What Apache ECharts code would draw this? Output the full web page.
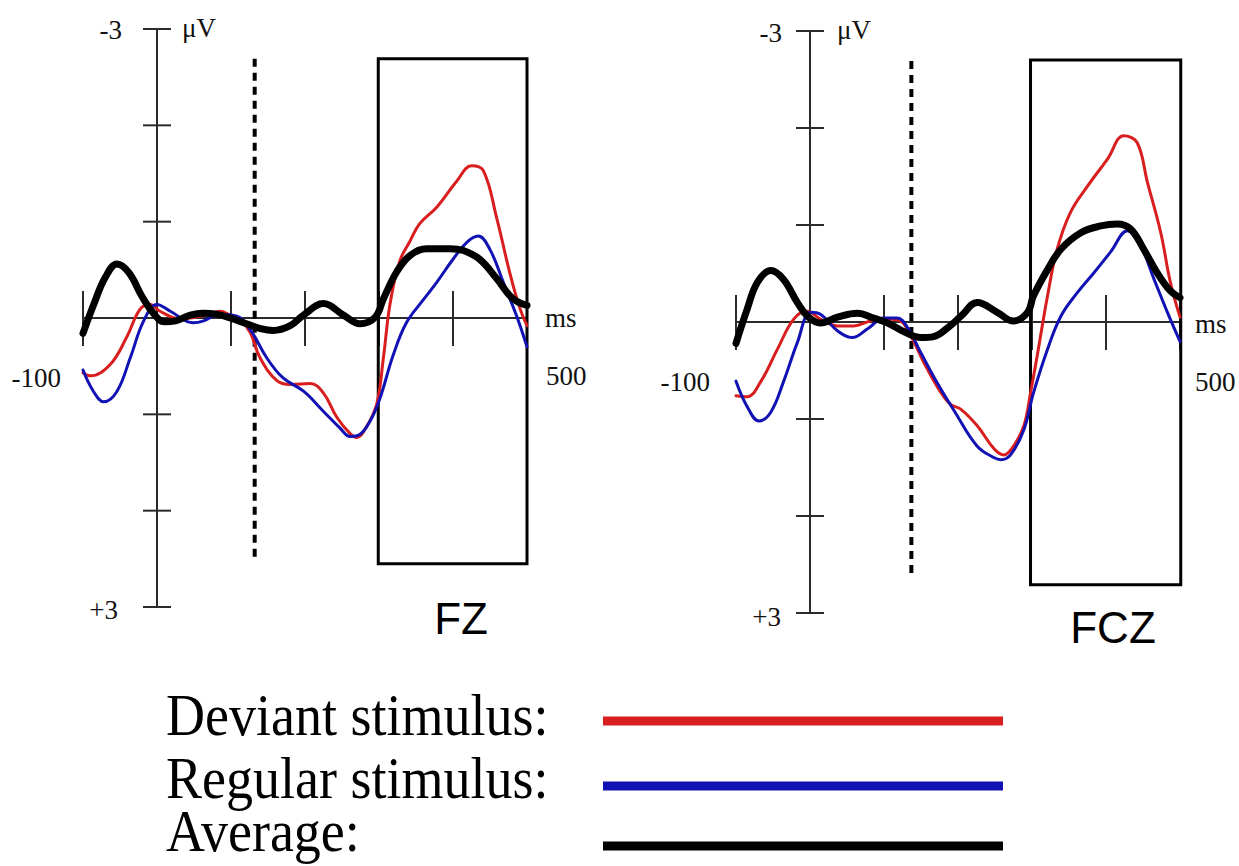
<!DOCTYPE html>
<html>
<head>
<meta charset="utf-8">
<script src="https://cdn.jsdelivr.net/npm/echarts@6/dist/echarts.min.js"></script>
<style>
html,body{margin:0;padding:0;background:#fff;}
#chart{width:1239px;height:866px;}
</style>
</head>
<body>
<div id="chart"></div>
<script>
// ---- data (ms, µV) ----
const X_TICKS = [-100, 0, 100, 200, 300, 400, 500];
const Y_TICKS = [-3, -2, -1, 0, 1, 2, 3];
const X_RANGE = [-100, 500];
const Y_RANGE = [-3, 3];
const PANEL_NAMES = ['FZ', 'FCZ'];
const LEGEND_NAMES = ['Deviant stimulus:', 'Regular stimulus:', 'Average:'];

const FZ_DEVIANT = [[-100,0.57],[-90,0.60],[-63,0.48],[-41,0.20],[-23,-0.09],[-9,-0.14],[4,-0.07],[31,0.01],[60,-0.02],[85,-0.07],[99,-0.03],[112,0.02],[126,0.15],[139,0.41],[162,0.65],[180,0.69],[207,0.68],[225,0.78],[243,1.03],[261,1.20],[270,1.24],[283,1.13],[297,0.89],[306,0.41],[315,-0.15],[328,-0.59],[342,-0.80],[355,-0.98],[378,-1.15],[405,-1.42],[425,-1.58],[441,-1.53],[459,-1.04],[477,-0.46],[490,-0.11],[500,0.08]];
const FZ_REGULAR = [[-100,0.54],[-86,0.76],[-72,0.87],[-54,0.76],[-36,0.41],[-18,0.03],[0,-0.14],[18,-0.07],[49,0.05],[63,0.03],[85,-0.04],[108,-0.02],[126,0.12],[148,0.41],[170,0.62],[198,0.76],[225,0.97],[247,1.14],[261,1.23],[274,1.21],[288,1.07],[301,0.84],[319,0.39],[337,0.05],[360,-0.19],[378,-0.37],[400,-0.61],[418,-0.78],[434,-0.85],[450,-0.71],[468,-0.37],[486,-0.02],[500,0.30]];
const FZ_AVERAGE = [[-100,0.16],[-85,-0.15],[-70,-0.42],[-54,-0.56],[-38,-0.47],[-20,-0.22],[-5,-0.05],[10,0.04],[25,0.03],[45,-0.03],[62,-0.05],[80,-0.04],[99,0],[121,0.06],[140,0.11],[157,0.13],[180,0.08],[198,-0.03],[225,-0.15],[252,-0.03],[274,0.06],[295,-0.01],[306,-0.20],[324,-0.48],[342,-0.65],[364,-0.72],[396,-0.72],[414,-0.70],[436,-0.61],[459,-0.41],[481,-0.20],[500,-0.13]];

const FCZ_DEVIANT = [[-100,0.76],[-85,0.77],[-67,0.62],[-44,0.28],[-22,-0.03],[-4,-0.11],[14,-0.03],[37,0.04],[59,0.04],[82,-0.01],[105,-0.03],[122,-0.01],[136,0.14],[154,0.42],[177,0.73],[190,0.85],[204,0.90],[226,1.07],[249,1.31],[262,1.37],[275,1.28],[289,1.07],[298,0.73],[307,0.35],[321,-0.27],[334,-0.75],[352,-1.13],[375,-1.40],[402,-1.68],[424,-1.92],[442,-1.85],[456,-1.44],[474,-0.92],[487,-0.41],[500,-0.05]];
const FCZ_REGULAR = [[-100,0.61],[-85,0.87],[-69,1.02],[-53,0.93],[-36,0.62],[-17,0.21],[1,-0.10],[14,-0.08],[37,0.09],[57,0.16],[78,0.07],[100,-0.04],[118,-0.04],[132,0.06],[150,0.32],[172,0.63],[196,0.93],[226,1.28],[249,1.40],[258,1.42],[271,1.37],[289,1.11],[302,0.73],[321,0.28],[339,-0.06],[361,-0.30],[384,-0.51],[406,-0.72],[429,-0.94],[447,-0.78],[465,-0.44],[483,-0.10],[500,0.20]];
const FCZ_AVERAGE = [[-100,0.22],[-85,-0.13],[-71,-0.41],[-53,-0.53],[-36,-0.44],[-17,-0.20],[-2,-0.05],[14,0.01],[37,-0.05],[64,-0.09],[86,-0.04],[105,0.01],[127,0.10],[150,0.16],[167,0.15],[186,0.06],[204,-0.06],[226,-0.20],[253,-0.10],[275,-0.01],[294,-0.10],[302,-0.27],[321,-0.54],[339,-0.75],[366,-0.92],[393,-0.99],[415,-1.01],[433,-0.96],[451,-0.75],[469,-0.51],[487,-0.32],[500,-0.25]];

// stimulus marker (dotted line) [ms, µV top, µV bottom]
const FZ_MARKER = [132, -2.69, 2.49];
const FCZ_MARKER = [137, -2.69, 2.63];
// analysis window box [ms start, ms end, µV top, µV bottom]
const FZ_WINDOW = [299, 500, -2.69, 2.55];
const FCZ_WINDOW = [298, 501, -2.70, 2.71];

// axis text labels: [x, y, text]
const AXIS_LABELS = [
  [0, -3, '-3'], [0, -3, 'μV'], [0, 3, '+3'], [-100, 0, '-100'], [500, 0, '500'], [500, 0, 'ms']
];

// ---- styles ----
const RED = '#d81e1e', BLUE = '#1212b4', BLACK = '#000';
const AXIS_COLOR = '#2b2b2b';
const SERIF = '"Liberation Serif", "Times New Roman", serif';
const SANS = '"Liberation Sans", Arial, sans-serif';

const panelCfg = [
  {grid:{left:83, top:29, width:444, height:578},
   nameOffset:[8, 11],
   labelOffsets:[[-35,1,'right'],[25,-1,'left'],[-39,3,'right'],[-22,60,'right'],[19,58,'left'],[18,0,'left']],
   dev:FZ_DEVIANT, reg:FZ_REGULAR, avg:FZ_AVERAGE, marker:FZ_MARKER, win:FZ_WINDOW},
  {grid:{left:736, top:31, width:444, height:582},
   nameOffset:[7, 14],
   labelOffsets:[[-28,2,'right'],[27,-1,'left'],[-29,4,'right'],[-26,60,'right'],[15,60,'left'],[15,2,'left']],
   dev:FCZ_DEVIANT, reg:FCZ_REGULAR, avg:FCZ_AVERAGE, marker:FCZ_MARKER, win:FCZ_WINDOW}
];

const grids = [], xAxes = [], yAxes = [], series = [];
panelCfg.forEach((p, i) => {
  grids.push(p.grid);
  xAxes.push({type:'value', gridIndex:i, min:X_RANGE[0], max:X_RANGE[1], show:false});
  yAxes.push({type:'value', gridIndex:i, min:Y_RANGE[0], max:Y_RANGE[1], inverse:true, show:false});
  const ax = {xAxisIndex:i, yAxisIndex:i, silent:true, clip:false, z:1};
  // axis lines
  series.push(Object.assign({type:'custom', data:[[X_RANGE[0], 0, X_RANGE[1], 0],[0, Y_RANGE[0], 0, Y_RANGE[1]]],
    renderItem:(params, api) => {
      const a = api.coord([api.value(0), api.value(1)]);
      const b = api.coord([api.value(2), api.value(3)]);
      return {type:'line', shape:{x1:a[0], y1:a[1], x2:b[0], y2:b[1]}, style:{stroke:AXIS_COLOR, lineWidth:2}};
    }}, ax));
  // x ticks
  series.push(Object.assign({type:'custom', data:X_TICKS.map(t => [t, 0]),
    renderItem:(params, api) => {
      const a = api.coord([api.value(0), api.value(1)]);
      return {type:'line', shape:{x1:a[0], y1:a[1]-27, x2:a[0], y2:a[1]+28}, style:{stroke:AXIS_COLOR, lineWidth:2}};
    }}, ax));
  // y ticks
  series.push(Object.assign({type:'custom', data:Y_TICKS.map(v => [0, v]),
    renderItem:(params, api) => {
      const a = api.coord([api.value(0), api.value(1)]);
      return {type:'line', shape:{x1:a[0]-14, y1:a[1], x2:a[0]+14, y2:a[1]}, style:{stroke:AXIS_COLOR, lineWidth:2}};
    }}, ax));
  // axis labels
  series.push(Object.assign({type:'custom', data:AXIS_LABELS.map(l => [l[0], l[1]]),
    renderItem:(params, api) => {
      const a = api.coord([api.value(0), api.value(1)]);
      const off = p.labelOffsets[params.dataIndex];
      return {type:'text', x:a[0]+off[0], y:a[1]+off[1],
        style:{text:AXIS_LABELS[params.dataIndex][2], fill:'#111', font:'27px ' + SERIF, align:off[2], verticalAlign:'middle'}};
    }}, ax));
  // dotted stimulus marker
  series.push(Object.assign({type:'custom', data:[p.marker],
    renderItem:(params, api) => {
      const a = api.coord([api.value(0), api.value(1)]);
      const b = api.coord([api.value(0), api.value(2)]);
      return {type:'line', shape:{x1:a[0], y1:a[1], x2:b[0], y2:b[1]}, style:{stroke:'#000', lineWidth:4, lineDash:[8,6]}};
    }}, ax));
  // window box
  series.push(Object.assign({type:'custom', data:[p.win],
    renderItem:(params, api) => {
      const a = api.coord([api.value(0), api.value(2)]);
      const b = api.coord([api.value(1), api.value(3)]);
      return {type:'rect', shape:{x:a[0], y:a[1], width:b[0]-a[0], height:b[1]-a[1]}, style:{fill:'none', stroke:'#000', lineWidth:3}};
    }}, ax));
  // panel name
  series.push(Object.assign({type:'custom', data:[[400, 3]],
    renderItem:(params, api) => {
      const a = api.coord([api.value(0), api.value(1)]);
      return {type:'text', x:a[0] + p.nameOffset[0], y:a[1] + p.nameOffset[1],
        style:{text:PANEL_NAMES[i], fill:'#000', font:'44px ' + SANS, align:'center', verticalAlign:'middle'}};
    }}, ax));
  // waveforms
  [[p.dev, RED, 3, LEGEND_NAMES[0]], [p.reg, BLUE, 3, LEGEND_NAMES[1]], [p.avg, BLACK, 7, LEGEND_NAMES[2]]].forEach((s, k) => {
    series.push({type:'line', name:s[3], xAxisIndex:i, yAxisIndex:i, data:s[0], smooth:0.4,
      showSymbol:false, symbol:'none', silent:true, z:3 + k, clip:false,
      lineStyle:{color:s[1], width:s[2], cap:'round', join:'round'}});
  });
});

// legend (drawn as graphic)
const legendColors = [RED, BLUE, BLACK];
const legendLineY = [721, 786, 846];
const legendTextY = [715, 778, 831];
const graphic = [];
LEGEND_NAMES.forEach((name, k) => {
  graphic.push({type:'text', x:166, y:legendTextY[k], scaleX:1, scaleY:1.1,
    style:{text:name, fill:'#000', font:'54px ' + SERIF, align:'left', verticalAlign:'middle'}});
  graphic.push({type:'line', shape:{x1:603, y1:legendLineY[k], x2:1003, y2:legendLineY[k]},
    style:{stroke:legendColors[k], lineWidth:9}});
});

const chart = echarts.init(document.getElementById('chart'), null, {renderer:'svg'});
chart.setOption({
  animation:false,
  backgroundColor:'#fff',
  grid:grids, xAxis:xAxes, yAxis:yAxes, series:series, graphic:graphic
});
</script>
</body>
</html>
